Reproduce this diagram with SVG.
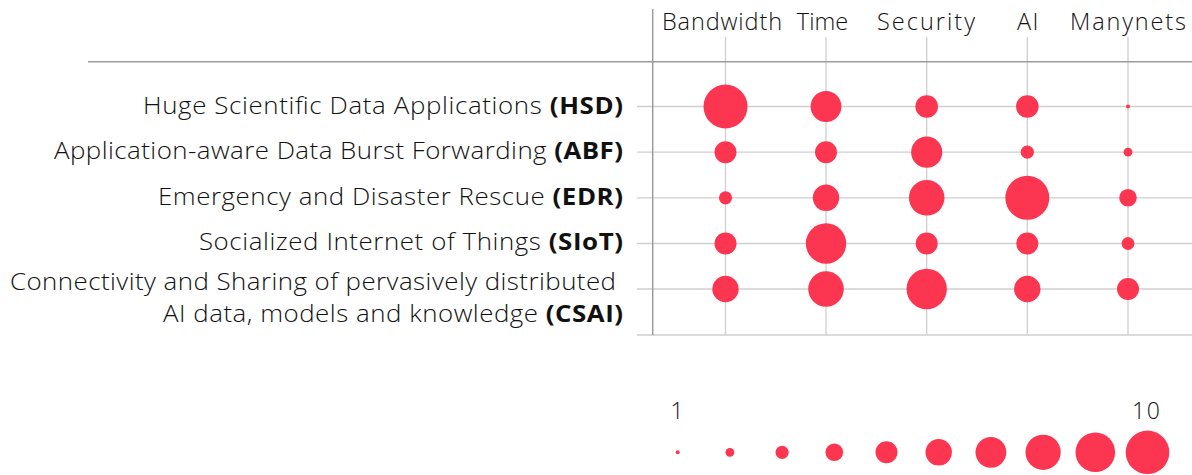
<svg xmlns="http://www.w3.org/2000/svg" width="1192" height="475" viewBox="0 0 1192 475">
<style>
  text { font-family: "Open Sans", Roboto, "Liberation Sans", sans-serif; font-weight: 300; fill: #111111; }
  .hdr { font-size: 23.5px; }
  .lbl { font-size: 23.5px; text-anchor: end; }
  .b { font-weight: 700; }
  .leg { font-size: 23px; }
  .grid { stroke: #cfcfcf; stroke-width: 1.3; fill: none; }
  .axis { stroke: #9c9c9c; stroke-width: 1.5; fill: none; }
  .dot { fill: #fc3650; }
</style>
<rect width="1192" height="475" fill="#ffffff"/>

<g id="grid">
  <line class="grid" x1="725.5" y1="37" x2="725.5" y2="335"/>
  <line class="grid" x1="826" y1="37" x2="826" y2="335"/>
  <line class="grid" x1="926.7" y1="37" x2="926.7" y2="335"/>
  <line class="grid" x1="1027.3" y1="37" x2="1027.3" y2="335"/>
  <line class="grid" x1="1128" y1="37" x2="1128" y2="335"/>
  <line class="grid" x1="637" y1="106.5" x2="1192" y2="106.5"/>
  <line class="grid" x1="637" y1="152.2" x2="1192" y2="152.2"/>
  <line class="grid" x1="637" y1="197.8" x2="1192" y2="197.8"/>
  <line class="grid" x1="637" y1="243.5" x2="1192" y2="243.5"/>
  <line class="grid" x1="637" y1="289" x2="1192" y2="289"/>
  <line class="grid" x1="637" y1="335" x2="1192" y2="335"/>
  <line class="axis" x1="88" y1="61.7" x2="1192" y2="61.7"/>
  <line class="axis" x1="652.7" y1="9" x2="652.7" y2="335"/>
</g>

<g id="headers">
  <text class="hdr" x="662" y="29.5" textLength="120" lengthAdjust="spacing">Bandwidth</text>
  <text class="hdr" x="822.5" y="29.5" text-anchor="middle">Time</text>
  <text class="hdr" x="877" y="29.5" textLength="98" lengthAdjust="spacing">Security</text>
  <text class="hdr" x="1017" y="29.5" textLength="21.5" lengthAdjust="spacing">AI</text>
  <text class="hdr" x="1070" y="29.5" textLength="116" lengthAdjust="spacing">Manynets</text>
</g>

<g id="row-HSD">
  <text class="lbl" transform="scale(1.1 1)" x="566.36" y="114" textLength="436.4" lengthAdjust="spacing">Huge Scientific Data Applications <tspan class="b">(HSD)</tspan></text>
  <circle class="dot" cx="725.5" cy="106.5" r="22"/>
  <circle class="dot" cx="826" cy="106.5" r="15.4"/>
  <circle class="dot" cx="926.7" cy="106.5" r="11.3"/>
  <circle class="dot" cx="1027.3" cy="106.5" r="11.3"/>
  <circle class="dot" cx="1128" cy="106.5" r="2"/>
</g>

<g id="row-ABF">
  <text class="lbl" transform="scale(1.1 1)" x="566.36" y="159.5" textLength="517.3" lengthAdjust="spacing">Application-aware Data Burst Forwarding <tspan class="b">(ABF)</tspan></text>
  <circle class="dot" cx="725.5" cy="152.2" r="11"/>
  <circle class="dot" cx="826" cy="152.2" r="11"/>
  <circle class="dot" cx="926.7" cy="152.2" r="15.6"/>
  <circle class="dot" cx="1027.3" cy="152.2" r="6.6"/>
  <circle class="dot" cx="1128" cy="152.2" r="4.4"/>
</g>

<g id="row-EDR">
  <text class="lbl" transform="scale(1.1 1)" x="566.36" y="205" textLength="422.7" lengthAdjust="spacing">Emergency and Disaster Rescue <tspan class="b">(EDR)</tspan></text>
  <circle class="dot" cx="725.5" cy="197.8" r="6.6"/>
  <circle class="dot" cx="826" cy="197.8" r="13.2"/>
  <circle class="dot" cx="926.7" cy="197.8" r="17.8"/>
  <circle class="dot" cx="1027.3" cy="197.8" r="22"/>
  <circle class="dot" cx="1128" cy="197.8" r="8.8"/>
</g>

<g id="row-SIoT">
  <text class="lbl" transform="scale(1.1 1)" x="566.36" y="250.5" textLength="385.5" lengthAdjust="spacing">Socialized Internet of Things <tspan class="b">(SIoT)</tspan></text>
  <circle class="dot" cx="725.5" cy="243.5" r="11"/>
  <circle class="dot" cx="826" cy="243.5" r="20.2"/>
  <circle class="dot" cx="926.7" cy="243.5" r="11"/>
  <circle class="dot" cx="1027.3" cy="243.5" r="11"/>
  <circle class="dot" cx="1128" cy="243.5" r="6.4"/>
</g>

<g id="row-CSAI">
  <text class="lbl" transform="scale(1.1 1)" x="560" y="290.5" textLength="550.9" lengthAdjust="spacing">Connectivity and Sharing of pervasively distributed</text>
  <text class="lbl" transform="scale(1.1 1)" x="566.36" y="322" textLength="418.2" lengthAdjust="spacing">AI data, models and knowledge <tspan class="b">(CSAI)</tspan></text>
  <circle class="dot" cx="725.5" cy="289" r="13.2"/>
  <circle class="dot" cx="826" cy="289" r="17.8"/>
  <circle class="dot" cx="926.7" cy="289" r="20.2"/>
  <circle class="dot" cx="1027.3" cy="289" r="13.2"/>
  <circle class="dot" cx="1128" cy="289" r="11"/>
</g>

<g id="legend">
  <text class="leg" x="677" y="419" text-anchor="middle">1</text>
  <text class="leg" x="1160" y="419" text-anchor="end" textLength="28" lengthAdjust="spacing">10</text>
  <circle class="dot" cx="677.7" cy="452.3" r="2"/>
  <circle class="dot" cx="729.9" cy="452.3" r="4.4"/>
  <circle class="dot" cx="782.1" cy="452.3" r="6.6"/>
  <circle class="dot" cx="834.3" cy="452.3" r="8.8"/>
  <circle class="dot" cx="886.5" cy="452.3" r="11"/>
  <circle class="dot" cx="938.7" cy="452.3" r="13.2"/>
  <circle class="dot" cx="990.9" cy="452.3" r="15.4"/>
  <circle class="dot" cx="1043.1" cy="452.3" r="17.6"/>
  <circle class="dot" cx="1095.3" cy="452.3" r="19.8"/>
  <circle class="dot" cx="1147.5" cy="452.3" r="21.8"/>
</g>
</svg>
